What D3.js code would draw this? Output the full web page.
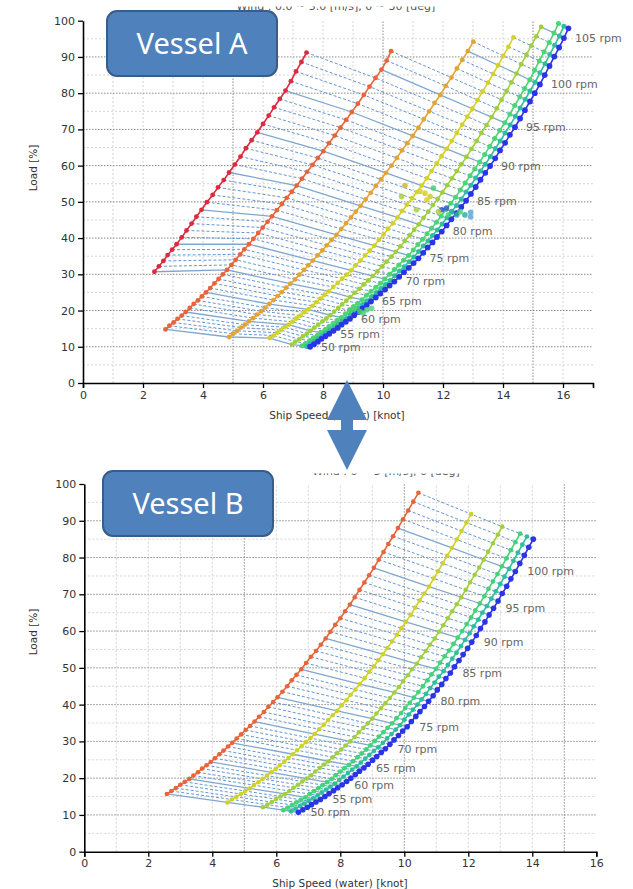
<!DOCTYPE html>
<html>
<head>
<meta charset="utf-8">
<script src="https://cdn.jsdelivr.net/npm/d3@7"></script>
<style>
body { margin: 0; background: #fff; }
svg { display: block; }
</style>
</head>
<body>
<svg id="chart" width="633" height="889"></svg>
<script>
/* ---- vessel A : speed [knot] / load [%] per rpm, one array entry per rpm ---- */
var aRedStart = 65;
var aRedSpeed = [2.38,2.53,2.68,2.82,2.97, 3.12,3.29,3.45,3.62,3.78, 3.95,4.13,4.32,4.50,4.69,
  4.87,5.06,5.25,5.43,5.62, 5.81,6.00,6.19,6.37,6.56, 6.75,6.93,7.10,7.28,7.45];
var aRedLoad = [30.7,32.2,33.7,35.3,36.8, 38.3,40.2,42.1,44.0,45.9, 47.8,49.9,51.9,54.0,56.0,
  58.1,60.3,62.5,64.8,67.0, 69.2,71.5,73.8,76.1,78.4, 80.7,83.3,86.0,88.6,91.2];

var aOrRedStart = 50;
var aOrRedSpeed = [2.75,2.88,3.02,3.15,3.29, 3.42,3.56,3.69,3.83,3.96, 4.10,4.24,4.38,4.52,4.66,
  4.80,4.95,5.09,5.24,5.38, 5.53,5.68,5.84,5.99,6.15, 6.30,6.46,6.63,6.79,6.96,
  7.12,7.30,7.47,7.65,7.83, 8.01,8.20,8.39,8.58,8.77, 8.96,9.16,9.36,9.55,9.75, 9.95,10.12,10.27];
var aOrRedLoad = [14.8,15.8,16.7,17.7,18.6, 19.6,20.7,21.8,22.8,23.9, 25.0,26.2,27.5,28.7,30.0,
  31.2,32.6,34.0,35.5,36.9, 38.3,39.8,41.4,42.9,44.5, 46.0,47.7,49.4,51.1,52.8,
  54.5,56.4,58.3,60.2,62.1, 64.0,66.2,68.3,70.5,72.6, 74.8,77.1,79.5,81.8,84.2, 86.5,89.0,91.6];

var aOrangeStart = 50;
var aOrangeSpeed = [4.87,5.00,5.14,5.26,5.40, 5.53,5.67,5.80,5.94,6.07, 6.21,6.35,6.49,6.63,6.77,
  6.91,7.07,7.21,7.37,7.51, 7.66,7.82,7.98,8.13,8.29, 8.45,8.61,8.77,8.93,9.09,
  9.25,9.42,9.59,9.76,9.93, 10.10,10.28,10.46,10.63,10.81, 10.99,11.18,11.36,11.54,11.72,
  11.91,12.09,12.28,12.46,12.64, 12.83,13.01];
var aOrangeLoad = [12.7,13.6,14.4,15.3,16.1, 17.0,17.9,18.9,19.8,20.8, 21.8,22.9,24.0,25.1,26.3,
  27.4,28.6,29.9,31.2,32.5, 33.8,35.2,36.6,38.0,39.5, 40.9,42.5,44.1,45.7,47.3,
  48.9,50.7,52.5,54.4,56.2, 58.0,60.0,62.1,64.2,66.2, 68.2,70.5,72.8,75.0,77.3,
  79.5,82.0,84.3,86.8,89.2, 91.6,94.2];

var aYellowStart = 50;
var aYellowSpeed = [6.22,6.35,6.47,6.60,6.72, 6.85,6.98,7.11,7.25,7.38, 7.51,7.65,7.78,7.92,8.05,
  8.19,8.34,8.49,8.64,8.79, 8.94,9.09,9.25,9.40,9.56, 9.71,9.86,10.02,10.17,10.33,
  10.48,10.64,10.80,10.97,11.13, 11.29,11.46,11.62,11.79,11.95, 12.12,12.29,12.46,12.64,12.81,
  12.98,13.15,13.32,13.50,13.67, 13.84,14.01,14.18,14.35];
var aYellowLoad = [12.4,13.1,13.9,14.6,15.4, 16.1,16.9,17.8,18.6,19.5, 20.3,21.3,22.3,23.3,24.3,
  25.3,26.5,27.6,28.8,29.9, 31.1,32.5,33.8,35.2,36.5, 37.9,39.5,41.0,42.6,44.1,
  45.7,47.5,49.2,51.0,52.7, 54.5,56.5,58.5,60.6,62.6, 64.6,66.8,69.0,71.3,73.5,
  75.7,78.1,80.5,82.9,85.3, 87.7,90.3,92.8,95.4];

var aLimeStart = 50;
var aLimeSpeed = [6.96,7.08,7.21,7.33,7.46, 7.58,7.71,7.84,7.98,8.11, 8.24,8.37,8.51,8.64,8.78,
  8.91,9.06,9.21,9.36,9.51, 9.66,9.81,9.97,10.12,10.28, 10.43,10.58,10.73,10.89,11.04,
  11.19,11.35,11.51,11.66,11.82, 11.98,12.14,12.30,12.46,12.62, 12.78,12.95,13.12,13.28,13.45,
  13.62,13.79,13.95,14.12,14.28, 14.45,14.61,14.78,14.94,15.11, 15.27];
var aLimeLoad = [10.6,11.4,12.1,12.9,13.6, 14.4,15.3,16.1,17.0,17.8, 18.7,19.7,20.7,21.7,22.7,
  23.7,24.9,26.0,27.2,28.3, 29.5,30.8,32.2,33.5,34.9, 36.2,37.7,39.2,40.8,42.3,
  43.8,45.6,47.3,49.1,50.8, 52.6,54.6,56.5,58.5,60.4, 62.4,64.6,66.8,69.0,71.2,
  73.4,75.8,78.2,80.6,83.0, 85.4,88.0,90.6,93.1,95.7, 98.3];

var aGreenStart = 50;
var aGreenSpeed = [7.30,7.43,7.56,7.68,7.81, 7.93,8.07,8.20,8.34,8.47, 8.61,8.75,8.89,9.02,9.16,
  9.30,9.45,9.60,9.76,9.91, 10.06,10.22,10.38,10.53,10.69, 10.85,11.01,11.16,11.32,11.47,
  11.62,11.78,11.94,12.10,12.26, 12.42,12.58,12.74,12.90,13.06, 13.22,13.39,13.56,13.72,13.89,
  14.06,14.23,14.39,14.56,14.72, 14.89,15.05,15.21,15.37,15.54, 15.70,15.85];
var aGreenLoad = [10.3,11.0,11.7,12.5,13.2, 14.0,14.8,15.6,16.5,17.3, 18.1,19.1,20.1,21.1,22.0,
  23.0,24.2,25.3,26.4,27.5, 28.7,30.0,31.3,32.6,33.9, 35.2,36.7,38.2,39.7,41.2,
  42.7,44.4,46.1,47.9,49.6, 51.3,53.3,55.2,57.2,59.1, 61.0,63.1,65.3,67.5,69.7,
  71.8,74.2,76.6,79.0,81.3, 83.7,86.3,88.9,91.4,94.0, 96.6,99.2];

var aTealStart = 50;
var aTealSpeed = [7.45,7.58,7.71,7.83,7.96, 8.08,8.22,8.36,8.49,8.63, 8.77,8.91,9.05,9.18,9.32,
  9.46,9.62,9.77,9.93,10.08, 10.24,10.39,10.55,10.71,10.87, 11.03,11.19,11.34,11.50,11.65,
  11.81,11.97,12.13,12.29,12.45, 12.61,12.77,12.93,13.09,13.25, 13.41,13.58,13.74,13.91,14.07,
  14.24,14.41,14.57,14.74,14.90, 15.07,15.23,15.40,15.56,15.72, 15.88,16.03];
var aTealLoad = [10.1,10.8,11.5,12.3,13.0, 13.8,14.6,15.4,16.3,17.1, 17.9,18.9,19.8,20.8,21.7,
  22.7,23.9,25.0,26.1,27.2, 28.3,29.6,30.9,32.1,33.5, 34.8,36.3,37.8,39.2,40.7,
  42.2,43.9,45.6,47.3,49.0, 50.8,52.7,54.6,56.6,58.5, 60.4,62.5,64.7,66.8,69.0,
  71.2,73.6,75.9,78.3,80.6, 83.0,85.6,88.1,90.7,93.2, 95.8,98.5];

var aBlueStart = 50;
var aBlueSpeed = [7.57,7.70,7.83,7.95,8.08, 8.21,8.35,8.49,8.62,8.76, 8.90,9.04,9.18,9.32,9.46,
  9.60,9.76,9.91,10.07,10.22, 10.38,10.54,10.70,10.86,11.02, 11.18,11.34,11.49,11.65,11.80,
  11.96,12.12,12.28,12.45,12.61, 12.77,12.93,13.09,13.25,13.41, 13.57,13.74,13.90,14.07,14.23,
  14.40,14.57,14.73,14.90,15.06, 15.23,15.39,15.55,15.71,15.87, 16.03,16.18];
var aBlueLoad = [10.0,10.7,11.4,12.2,12.9, 13.6,14.4,15.2,16.1,16.9, 17.7,18.7,19.6,20.6,21.5,
  22.5,23.6,24.7,25.8,26.9, 28.0,29.3,30.6,31.8,33.1, 34.4,35.9,37.4,38.8,40.3,
  41.8,43.5,45.2,46.9,48.6, 50.3,52.2,54.1,56.1,58.0, 59.9,62.0,64.2,66.3,68.5,
  70.6,73.0,75.3,77.7,80.0, 82.4,85.0,87.5,90.1,92.6, 95.2,97.9];

// measured points of vessel A
var aObsSpeed = [10.73,10.62,11.23,11.40,11.57,11.68,11.46,11.12,11.96,12.12,12.29,12.46,12.57,12.73,12.92,12.92,11.85,12.18,
  8.90,9.07,9.23,9.46,9.62,9.34];
var aObsLoad = [54.5,51.5,53.0,52.4,51.5,53.8,50.6,47.8,47.8,48.3,47.3,46.4,47.3,46.4,47.1,45.9,47.3,46.4,
  20.2,20.6,19.7,20.2,20.6,19.3];
var aObsColor = ["#e0b030","#a8d040","#d8d030","#d8d030","#d0d030","#48d070","#d8d030","#a8d040","#3050d8","#3060d0","#30b0a0","#30a8b0","#48d070","#30b0a0","#60a8d8","#60a8d8","#a8d040","#48d070",
  "#48d070","#50d070","#48d070","#50d070","#50d880","#48d070"];

var rpmLabelsA = [50,55,60,65,70,75,80,85,90,95,100,105];

/* ---- vessel B ---- */
var bStart = 50;
var bOrRedSpeed = [2.58,2.72,2.86,3.00,3.14, 3.28,3.41,3.55,3.68,3.82, 3.95,4.08,4.22,4.35,4.49,
  4.62,4.76,4.90,5.04,5.18, 5.32,5.46,5.61,5.75,5.90, 6.04,6.19,6.34,6.48,6.63,
  6.78,6.93,7.08,7.24,7.39, 7.54,7.69,7.84,8.00,8.15, 8.30,8.45,8.60,8.75,8.90,
  9.05,9.20,9.35,9.50,9.65, 9.80,9.96,10.12,10.28,10.44];
var bOrRedLoad = [15.7,16.5,17.3,18.2,19.0, 19.8,20.7,21.6,22.6,23.5, 24.4,25.4,26.5,27.5,28.6,
  29.6,30.8,31.9,33.1,34.2, 35.4,36.7,38.0,39.4,40.7, 42.0,43.5,45.0,46.6,48.1,
  49.6,51.3,53.0,54.6,56.3, 58.0,59.8,61.7,63.5,65.4, 67.2,69.2,71.2,73.2,75.2,
  77.2,79.4,81.5,83.7,85.8, 88.0,90.4,92.8,95.2,97.6];
var bYellowSpeed = [4.47,4.61,4.75,4.89,5.03, 5.17,5.30,5.44,5.57,5.71, 5.84,5.98,6.11,6.25,6.38,
  6.52,6.65,6.79,6.93,7.07, 7.20,7.34,7.48,7.62,7.76, 7.90,8.04,8.19,8.32,8.47,
  8.61,8.76,8.90,9.05,9.19, 9.33,9.47,9.62,9.77,9.91, 10.05,10.20,10.34,10.48,10.63,
  10.77,10.92,11.06,11.20,11.34, 11.49,11.64,11.79,11.94,12.09];
var bYellowLoad = [13.4,14.2,14.9,15.7,16.5, 17.2,18.1,18.9,19.8,20.7, 21.6,22.5,23.5,24.5,25.5,
  26.5,27.6,28.7,29.8,30.9, 32.0,33.3,34.5,35.8,37.1, 38.3,39.8,41.2,42.7,44.1,
  45.6,47.2,48.9,50.4,52.1, 53.7,55.4,57.2,59.0,60.8, 62.5,64.4,66.4,68.3,70.2,
  72.1,74.3,76.3,78.4,80.5, 82.6,84.9,87.2,89.5,91.8];
var bLimeSpeed = [5.58,5.72,5.86,5.99,6.13, 6.27,6.41,6.54,6.68,6.81, 6.95,7.09,7.22,7.36,7.49,
  7.63,7.76,7.90,8.03,8.17, 8.31,8.45,8.58,8.72,8.86, 9.00,9.13,9.27,9.41,9.55,
  9.69,9.83,9.96,10.11,10.24, 10.39,10.52,10.67,10.80,10.95, 11.08,11.22,11.36,11.50,11.64,
  11.78,11.92,12.06,12.20,12.34, 12.48,12.62,12.77,12.92,13.06];
var bLimeLoad = [12.1,12.8,13.5,14.3,15.0, 15.7,16.5,17.4,18.2,19.1, 19.9,20.8,21.8,22.8,23.7,
  24.6,25.7,26.8,27.8,28.9, 30.0,31.2,32.5,33.7,34.9, 36.2,37.6,39.0,40.4,41.8,
  43.3,44.8,46.4,48.0,49.6, 51.1,52.9,54.6,56.3,58.0, 59.8,61.6,63.5,65.4,67.3,
  69.2,71.2,73.3,75.3,77.3, 79.4,81.6,83.9,86.2,88.4];
var bGreenSpeed = [6.22,6.36,6.50,6.63,6.77, 6.91,7.05,7.18,7.32,7.45, 7.59,7.73,7.86,8.00,8.13,
  8.27,8.40,8.54,8.67,8.81, 8.94,9.08,9.21,9.35,9.48, 9.62,9.76,9.90,10.03,10.17,
  10.30,10.44,10.58,10.72,10.85, 10.99,11.12,11.26,11.40,11.54, 11.67,11.81,11.95,12.09,12.22,
  12.36,12.50,12.63,12.77,12.91, 13.05,13.19,13.33,13.47,13.62];
var bGreenLoad = [11.3,12.0,12.7,13.4,14.1, 14.8,15.7,16.5,17.3,18.1, 18.9,19.8,20.8,21.8,22.7,
  23.6,24.6,25.7,26.7,27.8, 28.9,30.1,31.3,32.5,33.7, 34.9,36.3,37.7,39.1,40.5,
  41.9,43.4,45.0,46.6,48.2, 49.7,51.4,53.1,54.7,56.5, 58.2,60.0,61.9,63.7,65.6,
  67.5,69.5,71.5,73.5,75.5, 77.6,79.8,82.0,84.2,86.5];
var bTealSpeed = [6.46,6.60,6.74,6.87,7.01, 7.15,7.29,7.42,7.56,7.69, 7.83,7.97,8.10,8.24,8.37,
  8.51,8.64,8.78,8.91,9.05, 9.19,9.33,9.46,9.60,9.73, 9.87,10.00,10.14,10.27,10.41,
  10.54,10.68,10.81,10.95,11.08, 11.23,11.36,11.50,11.63,11.77, 11.90,12.04,12.17,12.31,12.44,
  12.58,12.72,12.86,13.00,13.13, 13.27,13.41,13.55,13.69,13.83];
var bTealLoad = [11.0,11.7,12.4,13.1,13.8, 14.5,15.3,16.1,16.9,17.7, 18.5,19.5,20.4,21.4,22.3,
  23.2,24.2,25.3,26.3,27.4, 28.4,29.6,30.8,32.0,33.2, 34.4,35.9,37.3,38.6,40.0,
  41.4,42.9,44.5,46.0,47.6, 49.1,50.8,52.5,54.1,55.9, 57.6,59.4,61.3,63.1,65.0,
  66.8,68.8,70.8,72.8,74.8, 76.9,79.1,81.3,83.5,85.7];
var bBlueSpeed = [6.69,6.83,6.97,7.10,7.24, 7.38,7.52,7.65,7.79,7.92, 8.06,8.20,8.33,8.47,8.60,
  8.74,8.87,9.01,9.14,9.28, 9.41,9.55,9.68,9.82,9.95, 10.09,10.22,10.36,10.49,10.63,
  10.76,10.90,11.03,11.17,11.30, 11.44,11.57,11.71,11.84,11.98, 12.11,12.25,12.38,12.52,12.65,
  12.79,12.93,13.06,13.20,13.33, 13.47,13.61,13.75,13.89,14.03];
var bBlueLoad = [10.7,11.4,12.1,12.8,13.5, 14.2,15.0,15.8,16.6,17.4, 18.2,19.1,20.0,21.0,21.9,
  22.8,23.8,24.9,25.9,27.0, 28.0,29.2,30.4,31.6,32.8, 34.0,35.4,36.8,38.1,39.5,
  40.9,42.4,44.0,45.5,47.1, 48.6,50.3,52.0,53.6,55.3, 57.0,58.8,60.7,62.5,64.4,
  66.2,68.2,70.2,72.2,74.2, 76.2,78.4,80.6,82.8,85.0];

var rpmLabelsB = [50,55,60,65,70,75,80,85,90,95,100];

var loadTicks = [0,10,20,30,40,50,60,70,80,90,100];
var speedTicks = [0,2,4,6,8,10,12,14,16];

var FONT = "'DejaVu Sans', Verdana, sans-serif";
var svg = d3.select("#chart");
svg.append("rect").attr("width", 633).attr("height", 889).attr("fill", "#fff");

function drawPanel(p) {
  var x = d3.scaleLinear().domain([0, p.xMax]).range([p.left, p.right]);
  var y = d3.scaleLinear().domain([0, 100]).range([p.bottom, p.top]);
  var g = svg.append("g");

  // chart title, mostly cut off (drawn first so the cut does not hide anything else)
  g.append("text").attr("x", p.title[0]).attr("y", p.title[1]).attr("text-anchor", "middle")
    .attr("font-family", FONT).attr("font-size", 11).attr("fill", "#555").text(p.titleText);
  g.append("rect").attr("x", p.title[0] - 140).attr("y", p.title[1] - 16)
    .attr("width", 280).attr("height", p.titleCut).attr("fill", "#fff");

  // grid
  g.selectAll(".vg").data(d3.range(1, p.xMax)).enter().append("line")
    .attr("x1", function(d){ return x(d); }).attr("x2", function(d){ return x(d); })
    .attr("y1", y(0)).attr("y2", y(100))
    .attr("stroke", function(d){ return d % 5 === 0 ? "#8a8a8a" : "#d4d4d4"; })
    .attr("stroke-dasharray", function(d){ return d % 5 === 0 ? "1.5,1.5" : "2,2"; });
  g.selectAll(".hg").data(d3.range(5, 100, 5)).enter().append("line")
    .attr("x1", x(0)).attr("x2", x(p.xMax))
    .attr("y1", function(d){ return y(d); }).attr("y2", function(d){ return y(d); })
    .attr("stroke", function(d){ return d % 10 === 0 ? "#8a8a8a" : "#d4d4d4"; })
    .attr("stroke-dasharray", function(d){ return d % 10 === 0 ? "1.5,1.5" : "2,2"; });

  // constant rpm lines
  var line = d3.line().x(function(d){ return x(d[0]); }).y(function(d){ return y(d[1]); });
  var rMin = d3.min(p.curves, function(c){ return c.start; });
  var rMax = d3.max(p.curves, function(c){ return c.start + c.v.length - 1; });
  d3.range(rMin, rMax + 1).forEach(function(r) {
    var pts = [];
    p.curves.forEach(function(c) {
      var i = r - c.start;
      if (i >= 0 && i < c.v.length) pts.push([c.v[i], c.L[i]]);
    });
    if (pts.length < 2) return;
    var solid = r % 5 === 0;
    g.append("path").attr("d", line(pts)).attr("fill", "none")
      .attr("stroke", solid ? "#7ea7d0" : "#6496d2")
      .attr("stroke-width", solid ? 1.3 : 1)
      .attr("stroke-dasharray", solid ? null : "3,2");
  });

  // curves
  p.curves.forEach(function(c) {
    var pts = c.v.map(function(v, i){ return [v, c.L[i]]; });
    g.append("path").attr("d", line(pts)).attr("fill", "none")
      .attr("stroke", c.color).attr("stroke-width", 1.6);
    g.selectAll(null).data(pts).enter().append("circle")
      .attr("cx", function(d){ return x(d[0]); }).attr("cy", function(d){ return y(d[1]); })
      .attr("r", c.r).attr("fill", c.color);
  });

  // measured points
  if (p.obs) {
    g.selectAll(null).data(p.obs.v).enter().append("circle")
      .attr("cx", function(d){ return x(d); })
      .attr("cy", function(d, i){ return y(p.obs.L[i]); })
      .attr("r", 2.8).attr("fill", function(d, i){ return p.obs.c[i]; }).attr("opacity", 0.85);
  }

  // rpm labels next to the lightest curve
  var lc = p.curves[p.curves.length - 1];
  g.selectAll(null).data(p.labels).enter().append("text")
    .attr("x", function(r){ return x(lc.v[r - lc.start]) + p.labelDx; })
    .attr("y", function(r){ return y(lc.L[r - lc.start]); })
    .attr("dy", "0.35em").attr("font-family", FONT).attr("font-size", 11)
    .attr("fill", "#666").text(function(r){ return r + " rpm"; });

  // axes
  var ay = g.append("g").attr("transform", "translate(" + x(0) + ",0)")
    .call(d3.axisLeft(y).tickValues(loadTicks).tickSize(5).tickSizeOuter(0));
  var ax = g.append("g").attr("transform", "translate(0," + y(0) + ")")
    .call(d3.axisBottom(x).tickValues(speedTicks).tickSize(5).tickSizeOuter(5));
  [ax, ay].forEach(function(a) {
    a.attr("font-family", FONT).attr("font-size", 11);
    a.select(".domain").attr("stroke", "#000").attr("stroke-width", 1.6);
    a.selectAll(".tick line").attr("stroke", "#000").attr("stroke-width", 1.3);
    a.selectAll(".tick text").attr("fill", "#333");
  });

  g.append("text").attr("transform", "translate(" + p.yTitle[0] + "," + p.yTitle[1] + ") rotate(-90)")
    .attr("text-anchor", "middle").attr("dy", "0.35em").attr("font-family", FONT)
    .attr("font-size", 10.5).attr("fill", "#333").text("Load [%]");
  g.append("text").attr("x", p.xTitle[0]).attr("y", p.xTitle[1])
    .attr("text-anchor", "middle").attr("font-family", FONT)
    .attr("font-size", 10.5).attr("fill", "#333").text("Ship Speed (water) [knot]");
}

drawPanel({
  xMax: 17, left: 83, right: 593, top: 20.7, bottom: 383,
  curves: [
    { color: "#dc2a3f", r: 2.4, start: aRedStart, v: aRedSpeed, L: aRedLoad },
    { color: "#e8643a", r: 2.4, start: aOrRedStart, v: aOrRedSpeed, L: aOrRedLoad },
    { color: "#e2a436", r: 2.4, start: aOrangeStart, v: aOrangeSpeed, L: aOrangeLoad },
    { color: "#d3d22a", r: 2.4, start: aYellowStart, v: aYellowSpeed, L: aYellowLoad },
    { color: "#9fcf3e", r: 2.4, start: aLimeStart, v: aLimeSpeed, L: aLimeLoad },
    { color: "#4cd475", r: 2.5, start: aGreenStart, v: aGreenSpeed, L: aGreenLoad },
    { color: "#2fbf9e", r: 2.5, start: aTealStart, v: aTealSpeed, L: aTealLoad },
    { color: "#2a35e6", r: 2.9, start: aBlueStart, v: aBlueSpeed, L: aBlueLoad }
  ],
  obs: { v: aObsSpeed, L: aObsLoad, c: aObsColor },
  labels: rpmLabelsA, labelDx: 11,
  yTitle: [33, 168], xTitle: [337, 419],
  title: [336, 10], titleCut: 12.5, titleText: "Wind : 0.0 ~ 5.0 [m/s], 0 ~ 30 [deg]"
});

drawPanel({
  xMax: 16, left: 84.3, right: 596.3, top: 484, bottom: 851.7,
  curves: [
    { color: "#e8643a", r: 2.3, start: bStart, v: bOrRedSpeed, L: bOrRedLoad },
    { color: "#cdd22c", r: 2.3, start: bStart, v: bYellowSpeed, L: bYellowLoad },
    { color: "#a2cf40", r: 2.3, start: bStart, v: bLimeSpeed, L: bLimeLoad },
    { color: "#45d27a", r: 2.4, start: bStart, v: bGreenSpeed, L: bGreenLoad },
    { color: "#2fbf9e", r: 2.4, start: bStart, v: bTealSpeed, L: bTealLoad },
    { color: "#2a35e6", r: 2.8, start: bStart, v: bBlueSpeed, L: bBlueLoad }
  ],
  labels: rpmLabelsB, labelDx: 12,
  yTitle: [33, 632], xTitle: [340, 887],
  title: [386, 475], titleCut: 14.5, titleText: "Wind : 0 ~ 5 [m/s], 0 [deg]"
});

// vessel name boxes
[["Vessel A", 107, 11], ["Vessel B", 103, 471]].forEach(function(b) {
  svg.append("rect").attr("x", b[1]).attr("y", b[2]).attr("width", 170).attr("height", 65)
    .attr("rx", 10).attr("fill", "#4f81bd").attr("stroke", "#385d8a").attr("stroke-width", 2);
  svg.append("text").attr("x", b[1] + 85).attr("y", b[2] + 43).attr("text-anchor", "middle")
    .attr("font-family", "'Noto Sans', sans-serif").attr("font-size", 29).attr("fill", "#fff")
    .text(b[0]);
});

// double arrow between the two charts
svg.append("polygon")
  .attr("points", [[347,380],[367,420],[353,420],[353,430],[367,430],[347,470],[327,430],[341,430],[341,420],[327,420]]
    .map(function(p){ return p.join(","); }).join(" "))
  .attr("fill", "#4f81bd");
</script>
</body>
</html>
